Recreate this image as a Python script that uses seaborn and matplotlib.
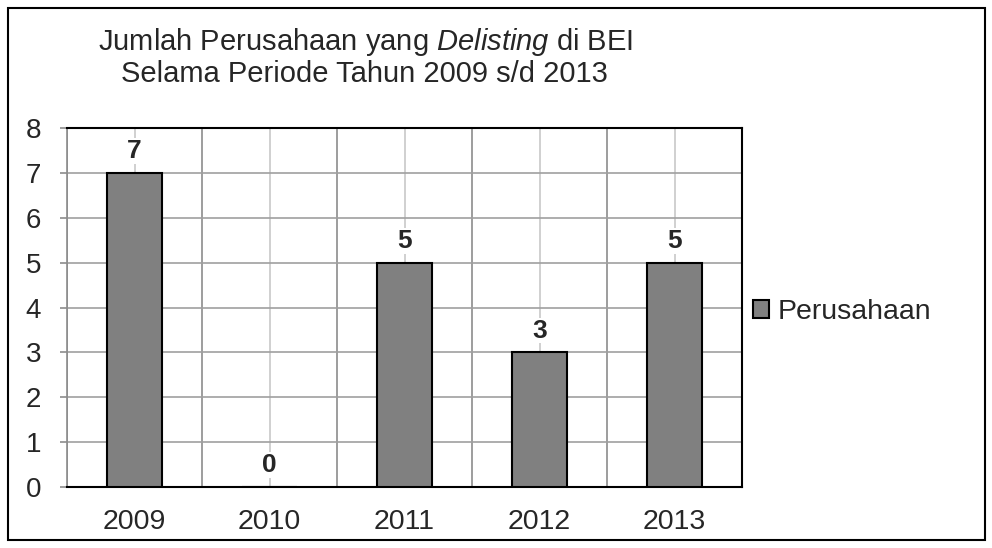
import matplotlib.pyplot as plt
import numpy as np
import pandas as pd
import seaborn as sns
from matplotlib.patches import Rectangle, Patch

# data
years = ['2009', '2010', '2011', '2012', '2013']
perusahaan = [7, 0, 5, 3, 5]

df = pd.DataFrame({'Tahun': years, 'Perusahaan': perusahaan})

sns.set_style('white')
plt.rcParams['font.family'] = ['Liberation Sans', 'DejaVu Sans']
plt.rcParams['mathtext.fontset'] = 'custom'
plt.rcParams['mathtext.rm'] = 'Liberation Sans'
plt.rcParams['mathtext.it'] = 'Liberation Sans:italic'

fig = plt.figure(figsize=(9.92, 5.48), dpi=100)
ax = fig.add_axes([67 / 992, 1 - 487 / 548, 675 / 992, 359 / 548])

sns.barplot(data=df, x='Tahun', y='Perusahaan', color='#808080', saturation=1,
            width=0.41, edgecolor='black', linewidth=1.5, ax=ax, zorder=3)

ax.set_xlim(-0.5, 4.5)
ax.set_ylim(0, 8)
ax.set_yticks(range(0, 9))
ax.set_xlabel('')
ax.set_ylabel('')

# gridlines: light at category centres, darker at boundaries
ax.set_xticks(np.arange(-0.5, 5, 1), minor=True)
ax.grid(True, axis='x', which='major', color='#c8c8c8', linewidth=1.2, zorder=0)
ax.grid(True, axis='x', which='minor', color='#8c8c8c', linewidth=1.2, zorder=0)
ax.grid(True, axis='y', which='major', color='#a0a0a0', linewidth=1.2, zorder=0)
ax.set_axisbelow(True)

ax.tick_params(axis='x', which='major', length=0, pad=16, labelsize=20.5)
ax.tick_params(axis='x', which='minor', length=6, width=1.5, color='black', direction='out')
ax.tick_params(axis='y', length=5, width=1.2, color='#8c8c8c', pad=13.5, labelsize=20, left=True)

for side in ['top', 'right', 'bottom']:
    ax.spines[side].set_color('black')
    ax.spines[side].set_linewidth(1.5)
ax.spines['left'].set_color('#8c8c8c')
ax.spines['left'].set_linewidth(1.2)

ax.bar_label(ax.containers[0], padding=7, fontsize=19, fontweight='bold',
             bbox=dict(facecolor='white', edgecolor='none', pad=0.5))

# title with italic word
fig.text(366 / 992, 1 - 50 / 548, r'Jumlah Perusahaan yang $\it{Delisting}$ di BEI',
         ha='center', va='baseline', fontsize=21)
fig.text(364 / 992, 1 - 82 / 548, 'Selama Periode Tahun 2009 s/d 2013',
         ha='center', va='baseline', fontsize=21)

handle = Patch(facecolor='#808080', edgecolor='black', linewidth=1.5, label='Perusahaan')
fig.legend(handles=[handle], loc='center left', bbox_to_anchor=(753 / 992, 1 - 312 / 548),
           frameon=False, fontsize=20.5, handlelength=0.56, handleheight=0.56,
           handletextpad=0.3, borderaxespad=0, borderpad=0)

# outer frame
fig.patches.append(Rectangle((8 / 992, 8 / 548), 977 / 992, 532 / 548,
                             transform=fig.transFigure, fill=False,
                             edgecolor='black', linewidth=1.5))

fig.savefig('out.png', dpi=100)
